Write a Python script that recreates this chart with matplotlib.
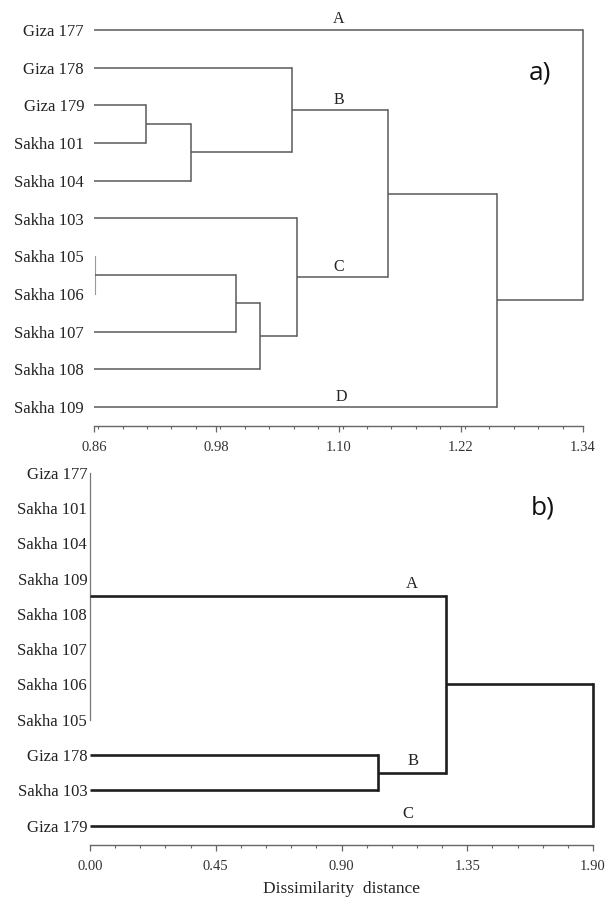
import matplotlib
matplotlib.use("Agg")
import matplotlib.pyplot as plt
from matplotlib.ticker import MultipleLocator

# ---------------- data ----------------
# panel a)
a_leaves = ["Giza 177", "Giza 178", "Giza 179", "Sakha 101", "Sakha 104",
            "Sakha 103", "Sakha 105", "Sakha 106", "Sakha 107", "Sakha 108",
            "Sakha 109"]
a_baseline = 0.86
# merges: (node name, children, height)
a_merges = [
    ("c1", ["Giza 179", "Sakha 101"], 0.911),
    ("c2", ["c1", "Sakha 104"], 0.955),
    ("c3", ["Giza 178", "c2"], 1.054),
    ("c4", ["Sakha 105", "Sakha 106"], 0.861),
    ("c5", ["c4", "Sakha 107"], 0.999),
    ("c6", ["c5", "Sakha 108"], 1.023),
    ("c7", ["Sakha 103", "c6"], 1.059),
    ("c8", ["c3", "c7"], 1.149),
    ("c9", ["c8", "Sakha 109"], 1.256),
    ("c10", ["Giza 177", "c9"], 1.340),
]
a_cluster_labels = ["A", "B", "C", "D"]
a_cluster_nodes = ["Giza 177", "c3", "c7", "Sakha 109"]
a_cluster_x = [1.10, 1.10, 1.10, 1.103]
a_ticks = [0.86, 0.98, 1.10, 1.22, 1.34]
a_tick_labels = ["0.86", "0.98", "1.10", "1.22", "1.34"]
a_minor_step = 0.024

# panel b)
b_leaves = ["Giza 177", "Sakha 101", "Sakha 104", "Sakha 109", "Sakha 108",
            "Sakha 107", "Sakha 106", "Sakha 105", "Giza 178", "Sakha 103",
            "Giza 179"]
b_baseline = 0.0
b_merges = [
    ("A0", ["Giza 177", "Sakha 101", "Sakha 104", "Sakha 109", "Sakha 108",
            "Sakha 107", "Sakha 106", "Sakha 105"], 0.0),
    ("B0", ["Giza 178", "Sakha 103"], 1.031),
    ("A1", ["A0", "B0"], 1.274),
    ("root", ["A1", "Giza 179"], 1.80),
]
b_cluster_labels = ["A", "B", "C"]
b_cluster_nodes = ["A0", "B0", "Giza 179"]
b_cluster_x = [1.152, 1.156, 1.138]
b_ticks = [0.0, 0.45, 0.90, 1.35, 1.80]
b_tick_labels = ["0.00", "0.45", "0.90", "1.35", "1.90"]
b_minor_step = 0.09

SERIF = ["Liberation Serif", "DejaVu Serif"]
TXT = "#222222"


def draw_dendro(ax, leaves, baseline, merges, color, lw, thin_color, thin_lw):
    ypos = {name: i for i, name in enumerate(leaves)}
    hgt = {name: baseline for name in leaves}
    for name, children, h in merges:
        ys = [ypos[c] for c in children]
        for c in children:
            if h - hgt[c] > 0.002:
                ax.plot([hgt[c], h], [ypos[c], ypos[c]], color=color, lw=lw,
                        solid_capstyle="butt", clip_on=False)
        lo, hi = min(ys), max(ys)
        if h - baseline < 0.005:
            ax.plot([h, h], [lo, hi], color=thin_color, lw=thin_lw,
                    clip_on=False)
        else:
            ax.plot([h, h], [lo, hi], color=color, lw=lw,
                    solid_capstyle="projecting", clip_on=False)
        ypos[name] = (lo + hi) / 2.0
        hgt[name] = h
    return ypos


def style_axis(ax, leaves, ticks, tick_labels, minor_step, xlim, ylim,
               ypad, xpad, spine_color):
    ax.set_xlim(*xlim)
    ax.set_ylim(*ylim)
    for s in ["top", "right", "left"]:
        ax.spines[s].set_visible(False)
    ax.spines["bottom"].set_color(spine_color)
    ax.spines["bottom"].set_linewidth(1.0)
    ax.set_xticks(ticks)
    ax.set_xticklabels(tick_labels, fontfamily=SERIF, fontsize=10.5,
                       color="#333333")
    ax.xaxis.set_minor_locator(MultipleLocator(minor_step))
    ax.tick_params(axis="x", which="major", direction="out", length=4,
                   width=0.9, color=spine_color, pad=xpad)
    ax.tick_params(axis="x", which="minor", direction="out", length=2.5,
                   width=0.8, color=spine_color)
    ax.set_yticks(range(len(leaves)))
    ax.set_yticklabels(leaves, fontfamily=SERIF, fontsize=12, color=TXT)
    ax.tick_params(axis="y", length=0, pad=ypad)
    ax.set_facecolor("none")


fig = plt.figure(figsize=(6.09, 8.97), dpi=100)
W, H = 609.0, 897.0

# ---- panel a ----
axa = fig.add_axes([94 / W, 1 - 426 / H, (583 - 94) / W, (426 - 11) / H])
pos_a = draw_dendro(axa, a_leaves, a_baseline, a_merges, "#5a5a5a", 1.1,
                    "#9a9a9a", 0.8)
style_axis(axa, a_leaves, a_ticks, a_tick_labels, a_minor_step,
           (0.86, 1.34), (10.5, -0.5), 7.2, 7.0, "#666666")
for lab, node, x in zip(a_cluster_labels, a_cluster_nodes, a_cluster_x):
    axa.annotate(lab, (x, pos_a[node]), xytext=(0, 7.5),
                 textcoords="offset points", ha="center", va="center",
                 fontfamily=SERIF, fontsize=11.5, color=TXT)
fig.text(540 / W, 1 - 73 / H, "a)", fontfamily=["Open Sans", "DejaVu Sans"],
         fontsize=19, ha="center", va="center", color="#111111")

# ---- panel b ----
axb = fig.add_axes([90 / W, 1 - 845 / H, (593 - 90) / W, (845 - 455) / H])
pos_b = draw_dendro(axb, b_leaves, b_baseline, b_merges, "#1e1e1e", 1.9,
                    "#777777", 0.9)
style_axis(axb, b_leaves, b_ticks, b_tick_labels, b_minor_step,
           (0.0, 1.80), (10.55, -0.5), 2.0, 6.5, "#666666")
for lab, node, x in zip(b_cluster_labels, b_cluster_nodes, b_cluster_x):
    axb.annotate(lab, (x, pos_b[node]), xytext=(0, 8.5),
                 textcoords="offset points", ha="center", va="center",
                 fontfamily=SERIF, fontsize=12, color=TXT)
axb.set_xlabel("Dissimilarity  distance", fontfamily=SERIF, fontsize=12.5,
               color=TXT, labelpad=6)
fig.text(543 / W, 1 - 508 / H, "b)", fontfamily=["Open Sans", "DejaVu Sans"],
         fontsize=19, ha="center", va="center", color="#111111")

fig.savefig("out.png", dpi=100, facecolor="white")
